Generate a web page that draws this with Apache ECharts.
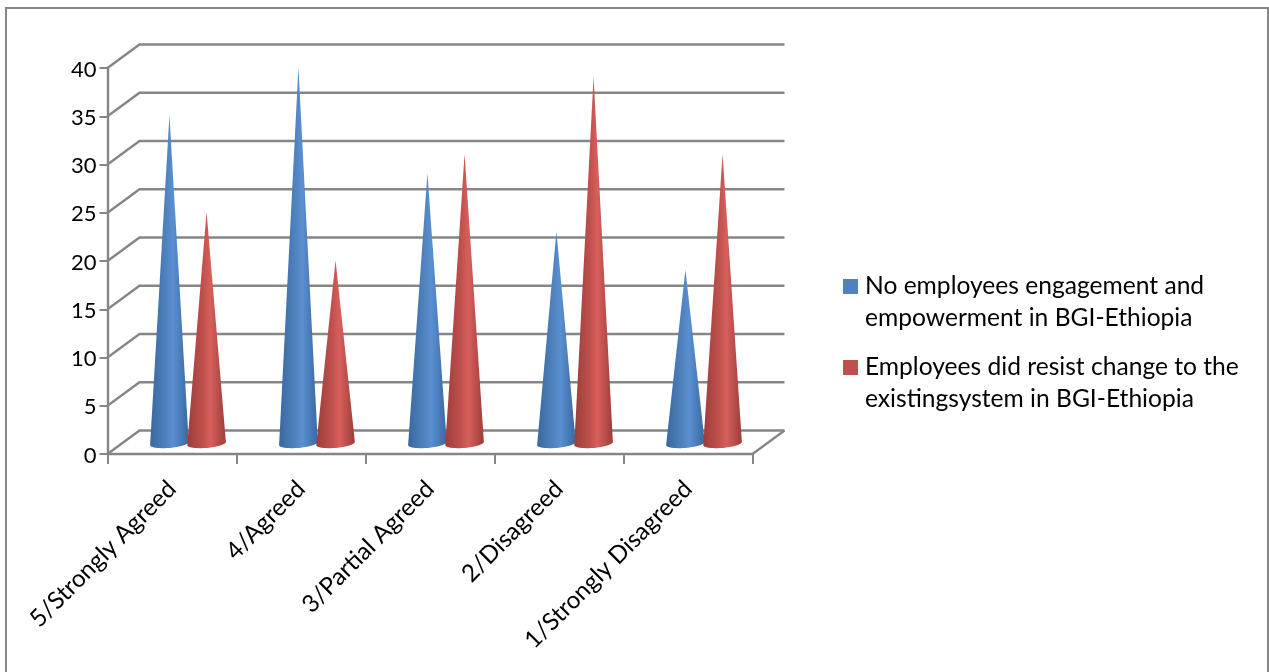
<!DOCTYPE html>
<html>
<head>
<meta charset="utf-8">
<title>BGI-Ethiopia employees</title>
<script src="https://cdn.jsdelivr.net/npm/echarts@6/dist/echarts.min.js"></script>
<style>
html, body { margin: 0; padding: 0; background: #fff; overflow: hidden; }
#table { position: absolute; left: 0; top: 0; width: 1269px; height: 672px; }
#frame { position: absolute; left: 5px; top: 7px; width: 1260px; height: 680px; border: 2px solid #868686; box-sizing: content-box; }
</style>
</head>
<body>
<div id="frame"></div>
<div id="table"></div>
<script>
var categories = ["5/Strongly Agreed", "4/Agreed", "3/Partial Agreed", "2/Disagreed", "1/Strongly Disagreed"];
var engagementValues = [34, 39, 28, 22, 18];
var resistValues = [24, 19, 30, 38, 30];
var yTicks = [0, 5, 10, 15, 20, 25, 30, 35, 40];
var engagementName = "No employees engagement and\nempowerment in BGI-Ethiopia";
var resistName = "Employees did resist change to the\nexistingsystem in BGI-Ethiopia";

// 3D look: depth of the box in pixels
var depthX = 32;
var depthY = 23.5;
var wallColor = "#868686";

function gradient(dark, mid, light) {
    return new echarts.graphic.LinearGradient(0, 0, 1, 0, [
        {offset: 0, color: dark},
        {offset: 0.4, color: mid},
        {offset: 0.6, color: light},
        {offset: 1, color: dark}
    ]);
}

// cone standing in the middle of the box depth
function coneItem(side, fill) {
    return function (params, api) {
        var cat = api.value(0);
        var tip = api.coord([cat, api.value(1)]);
        var base = api.coord([cat, 0]);
        var band = api.size([1, 0])[0];
        var cx = base[0] + depthX / 2 + side * band * 0.144;
        var offY = 10.5;
        var rx = 19.3;
        var ry = 4.4;
        var tilt = 1.6;
        var pts = [[cx, tip[1] - offY]];
        for (var i = 0; i <= 24; i++) {
            var a = Math.PI * i / 24;
            var dx = -rx * Math.cos(a);
            pts.push([cx + dx, base[1] - offY + ry * Math.sin(a) - tilt * dx / rx]);
        }
        return {type: "polygon", shape: {points: pts}, style: {fill: fill}};
    };
}

// back wall, side wall and floor lines
function wallItem(params, api) {
    var v = api.value(0);
    var left = api.coord([0, v]);
    left[0] = params.coordSys.x;
    var right = params.coordSys.x + params.coordSys.width;
    var children = [{
        type: "polyline",
        shape: {points: [[left[0], left[1]], [left[0] + depthX, left[1] - depthY], [right + depthX, left[1] - depthY]]},
        style: {stroke: wallColor, lineWidth: 2.4, fill: null}
    }];
    if (v === 0) {
        children.push({
            type: "line",
            shape: {x1: right, y1: left[1], x2: right + depthX, y2: left[1] - depthY},
            style: {stroke: wallColor, lineWidth: 2.4}
        });
    }
    return {type: "group", children: children};
}

function generateTable() {
    var myChart = echarts.init(document.getElementById("table"), null, {renderer: "canvas"});
    var option = {
        animation: false,
        backgroundColor: "transparent",
        textStyle: {fontFamily: "Lato"},
        grid: {left: 107.5, top: 68, width: 645, height: 386},
        legend: {
            left: 843,
            top: 270.5,
            padding: 0,
            orient: "vertical",
            itemWidth: 15,
            itemHeight: 47,
            itemGap: 17,
            icon: "path://M0 0H15V15H0Z M0 47L0 47Z",
            selectedMode: false,
            textStyle: {fontSize: 24.6, lineHeight: 32, color: "#000", fontFamily: "Lato", padding: [0, 0, 0, 2]},
            data: [engagementName, resistName]
        },
        xAxis: {
            type: "category",
            data: categories,
            axisLine: {lineStyle: {color: wallColor, width: 2.4}},
            axisTick: {show: true, length: 10, lineStyle: {color: wallColor, width: 2}},
            axisLabel: {rotate: 45, interval: 0, margin: 31, fontSize: 24.2, color: "#000", fontFamily: "Lato"}
        },
        yAxis: {
            type: "value",
            min: 0,
            max: 40,
            interval: 5,
            splitLine: {show: false},
            axisLine: {show: true, lineStyle: {color: wallColor, width: 2.4}},
            axisTick: {show: true, length: 8, lineStyle: {color: wallColor, width: 2}},
            axisLabel: {
                margin: 11,
                formatter: "{n|{value}}",
                rich: {n: {fontSize: 22, color: "#000", fontFamily: "Lato", padding: [3, 0, 0, 0]}}
            }
        },
        series: [
            {
                name: "walls",
                type: "custom",
                renderItem: wallItem,
                data: yTicks.map(function (t) { return [t]; }),
                encode: {y: 0},
                silent: true,
                z: 1
            },
            {
                name: engagementName,
                type: "custom",
                renderItem: coneItem(-1, gradient("#38689f", "#4f81bd", "#5a8fd0")),
                data: categories.map(function (c, i) { return [i, engagementValues[i]]; }),
                encode: {x: 0, y: 1},
                itemStyle: {color: "#4f81bd"},
                z: 3
            },
            {
                name: resistName,
                type: "custom",
                renderItem: coneItem(1, gradient("#9c3d3a", "#c0504d", "#d65f5b")),
                data: categories.map(function (c, i) { return [i, resistValues[i]]; }),
                encode: {x: 0, y: 1},
                itemStyle: {color: "#c0504d"},
                z: 4
            }
        ]
    };
    myChart.setOption(option);
}

generateTable();
</script>
</body>
</html>
